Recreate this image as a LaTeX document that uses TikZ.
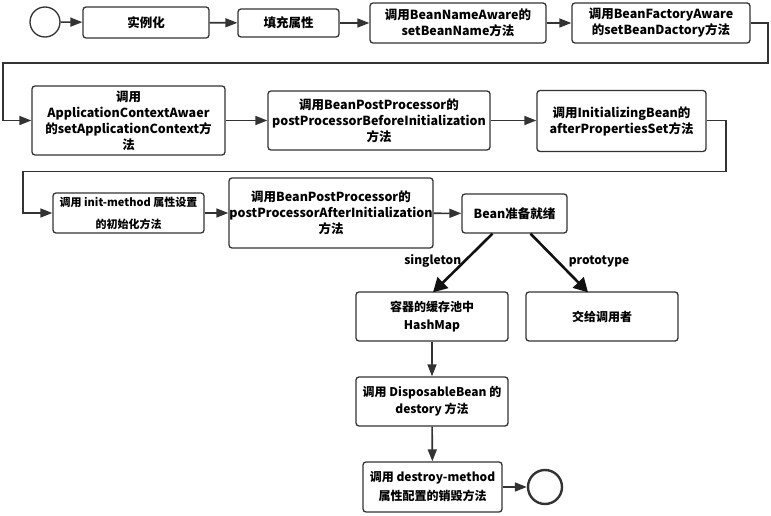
\documentclass[tikz,border=0pt]{standalone}
\usepackage{fontspec}
\setmainfont{Noto Sans CJK SC}
\usepackage{xcolor}
\usepackage{tikz}
\usetikzlibrary{arrows.meta}
\definecolor{ink}{HTML}{333333}
\definecolor{coal}{HTML}{111111}
\newcommand{\smallpt}{\fontsize{11}{22}\selectfont}

\begin{document}
\begin{tikzpicture}[x=1pt,y=-1pt,font=\fontsize{12.5}{16}\selectfont\bfseries,
  stage/.style={draw=ink,line width=1.3pt,rounded corners=3pt,align=center,
    inner sep=0pt,fill=white},
  flow/.style={draw=ink,line width=1.6pt,-{Triangle[length=12pt,width=9pt]}},
  branch/.style={draw=coal,line width=2.6pt,-{Triangle[length=14pt,width=15pt]}},
  term/.style={draw=ink,circle,inner sep=0pt}]
  \useasboundingbox (0,0) rectangle (771,516);
  %% first row
  \node[term,line width=1.3pt,minimum size=30pt] (start) at (45,22) {};
  \node[stage,minimum width=126pt,minimum height=31pt] (inst) at (146,22.5) {实例化};
  \node[stage,minimum width=101pt,minimum height=28pt] (fill) at (288.5,23) {填充属性};
  \node[stage,minimum width=176pt,minimum height=40pt] (nameaw) at (458,23)
    {调用BeanNameAware的\\setBeanName方法};
  \node[stage,minimum width=178pt,minimum height=40pt] (factaw) at (661,23)
    {调用BeanFactoryAware\\的setBeanDactory方法};
  %% second row
  \node[stage,minimum width=193pt,minimum height=69pt] (ctxaw) at (128.5,120.5)
    {调用\\ApplicationContextAwaer\\的setApplicationContext方\\法};
  \node[stage,minimum width=222pt,minimum height=59pt] (before) at (379,120.5)
    {调用BeanPostProcessor的\\postProcessorBeforeInitialization\\方法};
  \node[stage,minimum width=169pt,minimum height=61pt] (initbean) at (621.5,121)
    {调用InitializingBean的\\afterPropertiesSet方法};
  %% third row
  \node[stage,minimum width=151pt,minimum height=40pt,font=\smallpt\bfseries] (initm) at (128.5,213)
    {调用 init-method 属性设置\\的初始化方法};
  \node[stage,minimum width=204pt,minimum height=70pt] (after) at (331,213)
    {调用BeanPostProcessor的\\postProcessorAfterInitialization\\方法};
  \node[stage,minimum width=105pt,minimum height=39pt] (ready) at (514.5,213.5) {Bean准备就绪};
  %% scopes and destruction
  \node[stage,minimum width=152pt,minimum height=49pt,font=\fontsize{12}{18}\selectfont\bfseries] (pool) at (432,316.5)
    {容器的缓存池中\\HashMap};
  \node[stage,minimum width=152pt,minimum height=49pt,font=\fontsize{12}{18}\selectfont\bfseries] (caller) at (602,316.5)
    {交给调用者};
  \node[stage,minimum width=152pt,minimum height=49pt,font=\fontsize{12}{17}\selectfont\bfseries] (dispo) at (432,401.5)
    {调用 DisposableBean 的\\destory 方法};
  \node[stage,minimum width=139pt,minimum height=50pt,font=\fontsize{12}{19}\selectfont\bfseries] (destroy) at (432.5,487)
    {调用 destroy-method\\属性配置的销毁方法};
  \node[term,line width=2.4pt,minimum size=34pt] (stop) at (545,487) {};
  %% turn points of the long returns
  \coordinate (r1) at (768,63);
  \coordinate (l1) at (3,63);
  \coordinate (r2) at (726,171.5);
  \coordinate (l2) at (23,171.5);
  %% connectors
  \draw[flow] (start) -- (inst);
  \draw[flow] (inst) -- (fill);
  \draw[flow] (fill) -- (nameaw);
  \draw[flow] (nameaw) -- (factaw);
  \draw[flow] (factaw.east) -| (r1) -- (l1) |- (ctxaw.west);
  \draw[flow] (ctxaw) -- (before);
  \draw[flow] (before.east) -- (before.east -| initbean.west);
  \draw[flow] (initbean.east |- before.east) -| (r2) -- (l2) |- (initm.west);
  \draw[flow] (initm) -- (after);
  \draw[flow] (after) -- (ready);
  \draw[branch] ([xshift=-22pt]ready.south) -- ([xshift=1pt,yshift=-1pt]pool.north)
    node[pos=0.47,anchor=east,inner sep=2pt,font=\fontsize{12}{14}\selectfont\bfseries] {singleton};
  \draw[branch] ([xshift=16pt]ready.south) -- ([xshift=-14pt,yshift=-1pt]caller.north)
    node[pos=0.47,anchor=west,inner sep=2pt,xshift=8pt,font=\fontsize{12}{14}\selectfont\bfseries] {prototype};
  \draw[flow] (pool) -- (dispo);
  \draw[flow] (dispo) -- (destroy);
  \draw[flow] (destroy) -- (stop);
\end{tikzpicture}
\end{document}
